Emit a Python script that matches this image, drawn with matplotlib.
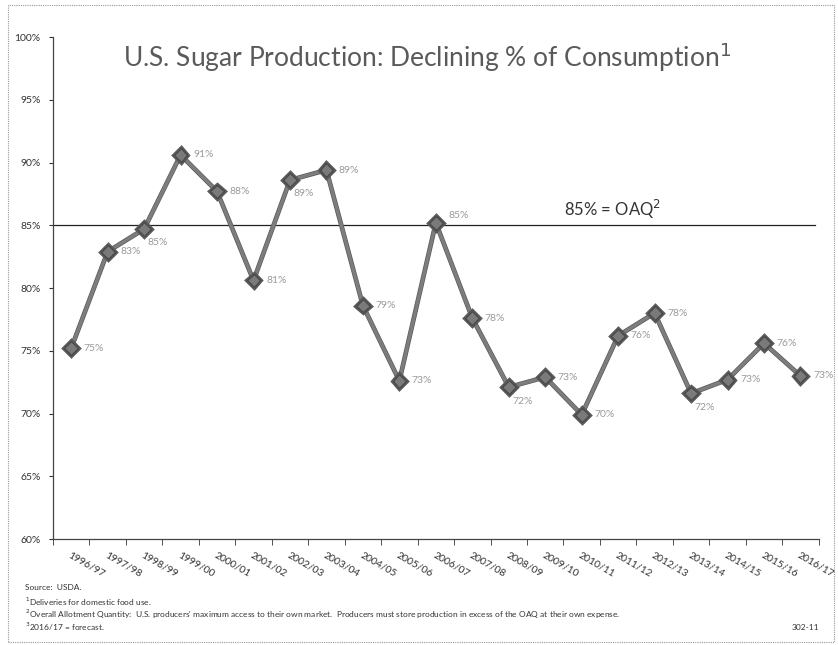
import matplotlib.pyplot as plt
import matplotlib.patheffects as pe
from matplotlib.patches import Rectangle
from matplotlib.ticker import FixedLocator, FuncFormatter

plt.rcParams['font.family'] = ['Lato', 'DejaVu Sans']

years = ['1996/97', '1997/98', '1998/99', '1999/00', '2000/01', '2001/02', '2002/03',
         '2003/04', '2004/05', '2005/06', '2006/07', '2007/08', '2008/09', '2009/10',
         '2010/11', '2011/12', '2012/13', '2013/14', '2014/15', '2015/16', '2016/17']
share = [75.2, 82.9, 84.7, 90.6, 87.7, 80.6, 88.6, 89.4, 78.6, 72.6, 85.2,
         77.6, 72.1, 72.9, 69.9, 76.2, 78.0, 71.6, 72.7, 75.6, 73.0]
# where each value label sits: 'r' right, 'ru' right and up, 'b' below
label_pos = ['r', 'r', 'b', 'r', 'r', 'r', 'b', 'r', 'r', 'r', 'ru',
             'r', 'b', 'r', 'r', 'r', 'r', 'b', 'r', 'r', 'r']
oaq = 85

fig = plt.figure(figsize=(8.38, 6.45), dpi=100)
ax = fig.add_axes([0.0632, 0.1643, 0.9138, 0.7783])

x = list(range(len(years)))
ax.plot(x, share, color='#7d7d7d', lw=2.4, marker='D', ms=7,
        mfc='#7a7a7a', mec='#4a4a4a', mew=1.0, zorder=3,
        path_effects=[pe.Stroke(linewidth=3.4, foreground='#5a5a5a'), pe.Normal()])
ax.axhline(oaq, color='#222222', lw=0.9, xmax=0.995, zorder=2)
ax.text(14.85, oaq + 0.35, '85% = OAQ$^2$', fontsize=12, color='#333333',
        ha='center', va='bottom')

for i, v in enumerate(share):
    lab = '%d%%' % round(v)
    p = label_pos[i]
    if p == 'r':
        ax.annotate(lab, (i, v), xytext=(9, 0), textcoords='offset points',
                    ha='left', va='center', fontsize=7.5, color='#9a9a9a')
    elif p == 'ru':
        ax.annotate(lab, (i, v), xytext=(9, 5), textcoords='offset points',
                    ha='left', va='center', fontsize=7.5, color='#9a9a9a')
    else:
        ax.annotate(lab, (i, v), xytext=(10, -10), textcoords='offset points',
                    ha='center', va='center', fontsize=7.5, color='#9a9a9a')

ax.set_xlim(-0.5, len(years) - 0.5)
ax.set_ylim(60, 100)
ax.set_yticks(range(60, 101, 5))
ax.yaxis.set_major_formatter(FuncFormatter(lambda v, p: '%d%%' % v))
ax.set_xticks(x)
ax.set_xticklabels(years, rotation=-30, ha='left', va='top', rotation_mode='anchor',
                   fontsize=7.5, color='#333333')
ax.xaxis.set_minor_locator(FixedLocator([i - 0.5 for i in range(len(years) + 1)]))
ax.tick_params(axis='x', which='major', length=0, pad=8)
ax.tick_params(axis='x', which='minor', length=4, color='#333333', direction='out')
ax.tick_params(axis='y', length=3, color='#333333', labelsize=7.5, labelcolor='#333333', pad=6)
for s in ['top', 'right']:
    ax.spines[s].set_visible(False)
for s in ['left', 'bottom']:
    ax.spines[s].set_color('#444444')
    ax.spines[s].set_linewidth(0.9)

fig.text(0.51, 0.912, 'U.S. Sugar Production: Declining % of Consumption$^1$',
         fontsize=19, color='#5a5a5a', ha='center', va='center')

notes = ['Source:  USDA.',
         '$^1$Deliveries for domestic food use.',
         "$^2$Overall Allotment Quantity:  U.S. producers' maximum access to their own market.  "
         'Producers must store production in excess of the OAQ at their own expense.',
         '$^3$2016/17 = forecast.']
note_y = [0.0899, 0.0667, 0.0481, 0.0279]
for t, yy in zip(notes, note_y):
    fig.text(0.03, yy, t, fontsize=6, color='#333333', va='center')
fig.text(0.978, 0.0265, '302-11', fontsize=6, color='#333333', va='center', ha='right')

fig.patches.append(Rectangle((0.009, 0.005), 0.986, 0.987, transform=fig.transFigure,
                             fill=False, ls=(0, (1, 1)), lw=0.8, ec='#999999'))

fig.savefig('out.png', dpi=100)
